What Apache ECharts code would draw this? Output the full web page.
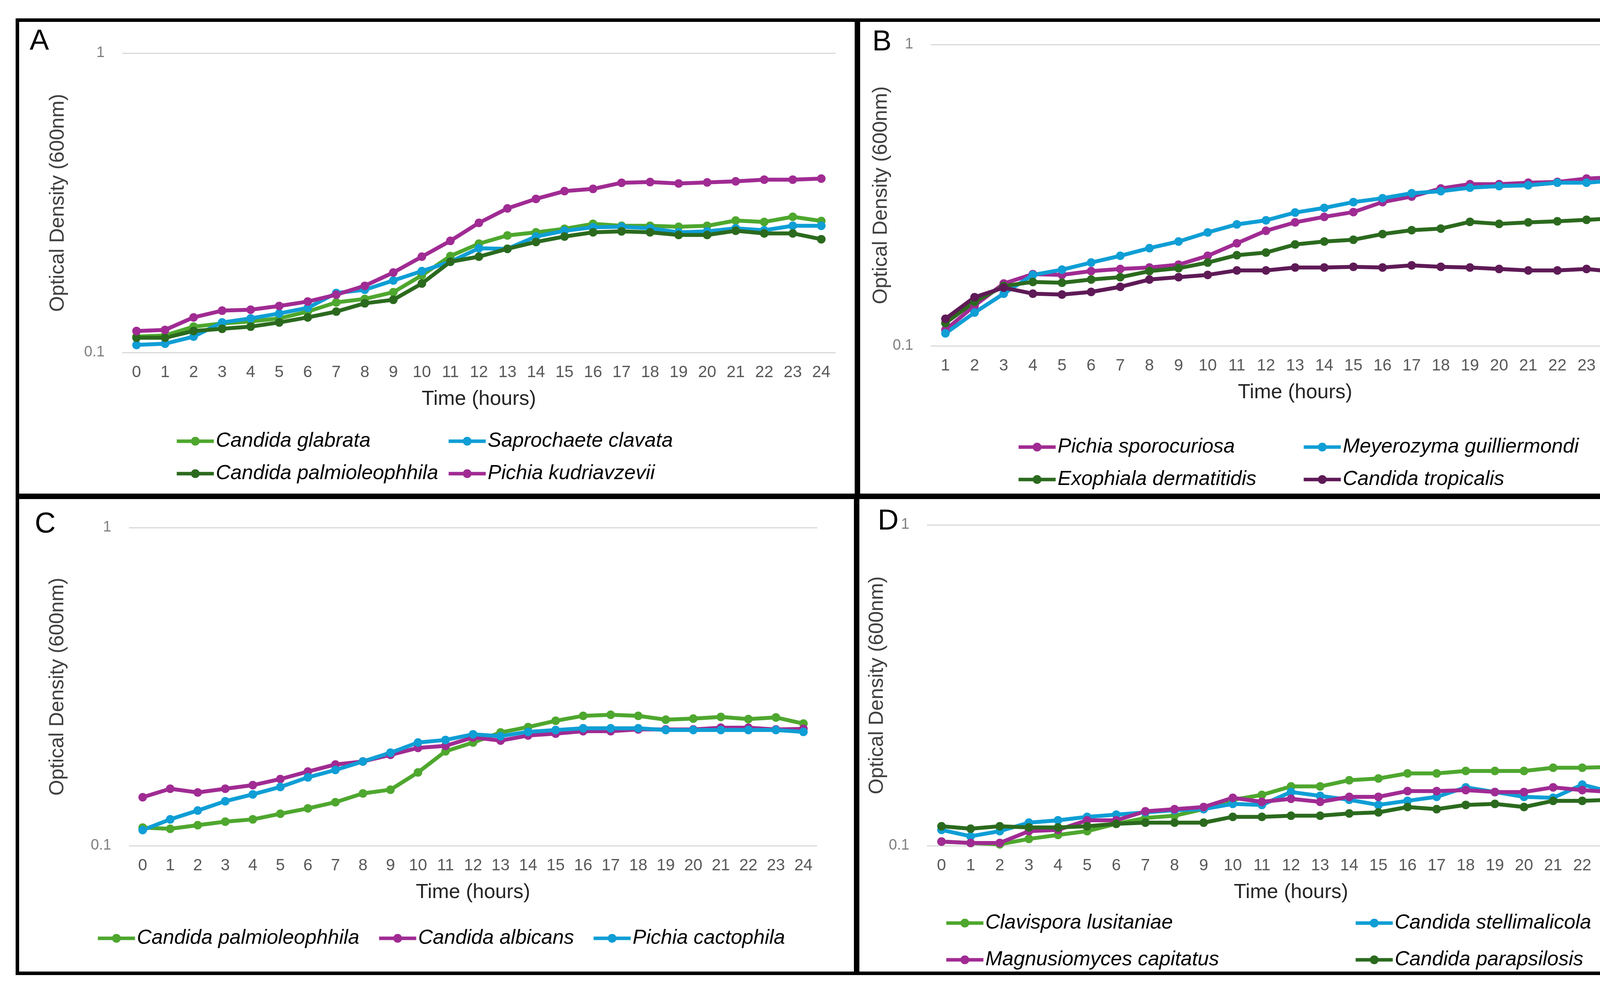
<!DOCTYPE html>
<html><head><meta charset="utf-8">
<script src="https://cdn.jsdelivr.net/npm/echarts@6/dist/echarts.min.js"></script>
<style>html,body{margin:0;padding:0;background:#fff}#c{width:4376px;height:2523px}</style>
</head><body><div id="c"></div>
<script>
// ---------- data ----------
const hoursA = ['0','1','2','3','4','5','6','7','8','9','10','11','12','13','14','15','16','17','18','19','20','21','22','23','24'];
const hoursB = ['1','2','3','4','5','6','7','8','9','10','11','12','13','14','15','16','17','18','19','20','21','22','23','24','25'];
const hoursC = hoursA;
const hoursD = hoursA;

const A_glabrata = [0.113,0.114,0.122,0.125,0.127,0.130,0.137,0.147,0.151,0.159,0.181,0.210,0.231,0.246,0.252,0.259,0.269,0.265,0.265,0.263,0.265,0.276,0.273,0.284,0.275];
const A_clavata  = [0.106,0.107,0.113,0.126,0.130,0.135,0.141,0.158,0.162,0.174,0.187,0.201,0.223,0.222,0.244,0.255,0.262,0.263,0.260,0.252,0.254,0.260,0.256,0.265,0.265];
const A_palmio   = [0.112,0.112,0.118,0.120,0.122,0.126,0.131,0.137,0.146,0.150,0.170,0.201,0.209,0.222,0.234,0.244,0.252,0.254,0.252,0.247,0.247,0.255,0.250,0.250,0.239];
const A_kudri    = [0.118,0.119,0.131,0.138,0.139,0.143,0.148,0.156,0.167,0.185,0.209,0.236,0.271,0.303,0.326,0.346,0.352,0.369,0.371,0.367,0.370,0.373,0.378,0.378,0.381];

const B_sporo = [0.113,0.136,0.161,0.173,0.172,0.177,0.180,0.182,0.186,0.199,0.219,0.241,0.257,0.268,0.278,0.300,0.313,0.333,0.344,0.344,0.348,0.350,0.359,0.363,0.369];
const B_guill = [0.110,0.129,0.149,0.172,0.179,0.189,0.199,0.211,0.222,0.238,0.253,0.261,0.277,0.287,0.300,0.309,0.321,0.326,0.335,0.339,0.341,0.348,0.348,0.354,0.354];
const B_exo   = [0.119,0.140,0.158,0.163,0.162,0.166,0.169,0.177,0.181,0.189,0.200,0.204,0.217,0.222,0.225,0.235,0.242,0.245,0.258,0.254,0.257,0.259,0.262,0.265,0.269];
const B_trop  = [0.123,0.145,0.156,0.149,0.148,0.151,0.157,0.166,0.169,0.172,0.178,0.178,0.182,0.182,0.183,0.182,0.185,0.183,0.182,0.180,0.178,0.178,0.180,0.176,0.176];

const C_palmio   = [0.114,0.113,0.116,0.119,0.121,0.126,0.131,0.137,0.146,0.150,0.170,0.198,0.211,0.227,0.236,0.247,0.256,0.258,0.256,0.249,0.251,0.254,0.250,0.253,0.242];
const C_albicans = [0.142,0.151,0.147,0.151,0.155,0.162,0.171,0.180,0.184,0.193,0.203,0.206,0.219,0.214,0.222,0.225,0.229,0.229,0.232,0.232,0.232,0.235,0.235,0.232,0.233];
const C_cacto    = [0.112,0.121,0.129,0.138,0.145,0.153,0.164,0.173,0.184,0.196,0.211,0.215,0.224,0.221,0.228,0.231,0.234,0.234,0.234,0.231,0.231,0.231,0.231,0.231,0.228];

const D_lusit  = [0.103,0.102,0.101,0.105,0.108,0.111,0.117,0.122,0.124,0.130,0.139,0.144,0.153,0.153,0.160,0.162,0.168,0.168,0.171,0.171,0.171,0.175,0.175,0.176,0.180];
const D_stelli = [0.112,0.107,0.111,0.118,0.120,0.123,0.125,0.127,0.129,0.130,0.135,0.134,0.147,0.143,0.139,0.134,0.138,0.142,0.152,0.147,0.142,0.141,0.155,0.147,0.156];
const D_capit  = [0.103,0.102,0.102,0.111,0.112,0.120,0.120,0.128,0.130,0.132,0.141,0.137,0.140,0.137,0.142,0.142,0.148,0.148,0.149,0.147,0.147,0.152,0.149,0.147,0.149];
const D_parap  = [0.115,0.113,0.115,0.114,0.114,0.115,0.117,0.118,0.118,0.118,0.123,0.123,0.124,0.124,0.126,0.127,0.132,0.130,0.134,0.135,0.132,0.138,0.138,0.139,0.141];

// ---------- styling ----------
const GREEN = '#4EA72E', BLUE = '#0F9ED5', MAGENTA = '#A02B93', DKGREEN = '#2B6A1E', PURPLE = '#5E1A56';
const FONT = 'Liberation Sans';

const panels = [
  { hours: hoursA, grid: {left:313, top:136, right:4376-2139, bottom:2523-902}, yGap:138,
    series: [['A|Candida glabrata',A_glabrata,GREEN],['A|Saprochaete clavata',A_clavata,BLUE],['A|Candida palmioleophhila',A_palmio,DKGREEN],['A|Pichia kudriavzevii',A_kudri,MAGENTA]],
    legend: [[448,1103],[1144,1103],[448,1186],[1144,1186]] },
  { hours: hoursB, grid: {left:2383, top:114, right:4376-4248, bottom:2523-885}, yGap:92,
    series: [['B|Pichia sporocuriosa',B_sporo,MAGENTA],['B|Meyerozyma guilliermondi',B_guill,BLUE],['B|Exophiala dermatitidis',B_exo,DKGREEN],['B|Candida tropicalis',B_trop,PURPLE]],
    legend: [[2603,1118],[3333,1118],[2603,1201],[3333,1201]] },
  { hours: hoursC, grid: {left:330, top:1350, right:4376-2092, bottom:2523-2164}, yGap:156,
    series: [['C|Candida palmioleophhila',C_palmio,GREEN],['C|Candida albicans',C_albicans,MAGENTA],['C|Pichia cactophila',C_cacto,BLUE]],
    legend: [[246,2375],[966,2375],[1515,2375]] },
  { hours: hoursD, grid: {left:2373, top:1343, right:4376-4237, bottom:2523-2164}, yGap:62,
    series: [['D|Clavispora lusitaniae',D_lusit,GREEN],['D|Candida stellimalicola',D_stelli,BLUE],['D|Magnusiomyces capitatus',D_capit,MAGENTA],['D|Candida parapsilosis',D_parap,DKGREEN]],
    legend: [[2418,2336],[3466,2336],[2418,2430],[3466,2430]] }
];

const grid = [], xAxis = [], yAxis = [], series = [], legend = [];
panels.forEach((p, i) => {
  grid.push(Object.assign({containLabel:false}, p.grid));
  xAxis.push({
    type:'category', gridIndex:i, data:p.hours, boundaryGap:true,
    axisLine:{show:false}, axisTick:{show:false},
    axisLabel:{interval:0, fontSize:42, color:'#595959', margin:30, fontFamily:FONT},
    name:'Time (hours)', nameLocation:'middle', nameGap:94,
    nameTextStyle:{fontSize:52, color:'#262626', fontFamily:FONT}
  });
  yAxis.push({
    type:'log', logBase:10, gridIndex:i, min:0.1, max:1,
    axisLine:{show:false}, axisTick:{show:false},
    splitLine:{show:true, lineStyle:{color:'#d9d9d9', width:3}},
    axisLabel:{fontSize:38, color:'#7f7f7f', margin:45, fontFamily:FONT},
    name:'Optical Density (600nm)', nameLocation:'middle', nameGap:p.yGap, nameRotate:90,
    nameTextStyle:{fontSize:52, color:'#404040', fontFamily:FONT}
  });
  p.series.forEach((s, j) => {
    series.push({
      type:'line', name:s[0], xAxisIndex:i, yAxisIndex:i, data:s[1],
      symbol:'circle', symbolSize:22, showSymbol:true,
      lineStyle:{width:10, color:s[2]}, itemStyle:{color:s[2]},
      emphasis:{disabled:true}, animation:false
    });
    legend.push({
      data:[s[0]], left:p.legend[j][0], top:p.legend[j][1], padding:0,
      itemWidth:95, itemHeight:28, selectedMode:false,
      lineStyle:{width:9},
      formatter: n => n.split('|')[1],
      textStyle:{fontSize:52, fontStyle:'italic', color:'#000', fontFamily:FONT}
    });
  });
});

const BW = 9;
function box(x1,y1,x2,y2){
  return {type:'rect', shape:{x:x1+BW/2, y:y1+BW/2, width:x2-x1-BW, height:y2-y1-BW},
    style:{fill:'none', stroke:'#000', lineWidth:BW}, z:100};
}
function lbl(t,x,y){
  return {type:'text', x:x, y:y, style:{text:t, font:'74px "Liberation Sans"', fill:'#000', textVerticalAlign:'top'}, z:100};
}
const graphic = [
  box(40,47,2197,1272), box(2193,47,4343,1272), box(40,1268,2195,2495), box(2191,1268,4343,2495),
  lbl('A',76,70), lbl('B',2233,72), lbl('C',89,1306), lbl('D',2247,1298)
];

const chart = echarts.init(document.getElementById('c'), null, {renderer:'canvas', width:4376, height:2523});
chart.setOption({
  backgroundColor:'#fff', animation:false,
  grid, xAxis, yAxis, series, legend, graphic
});
</script>
</body></html>
